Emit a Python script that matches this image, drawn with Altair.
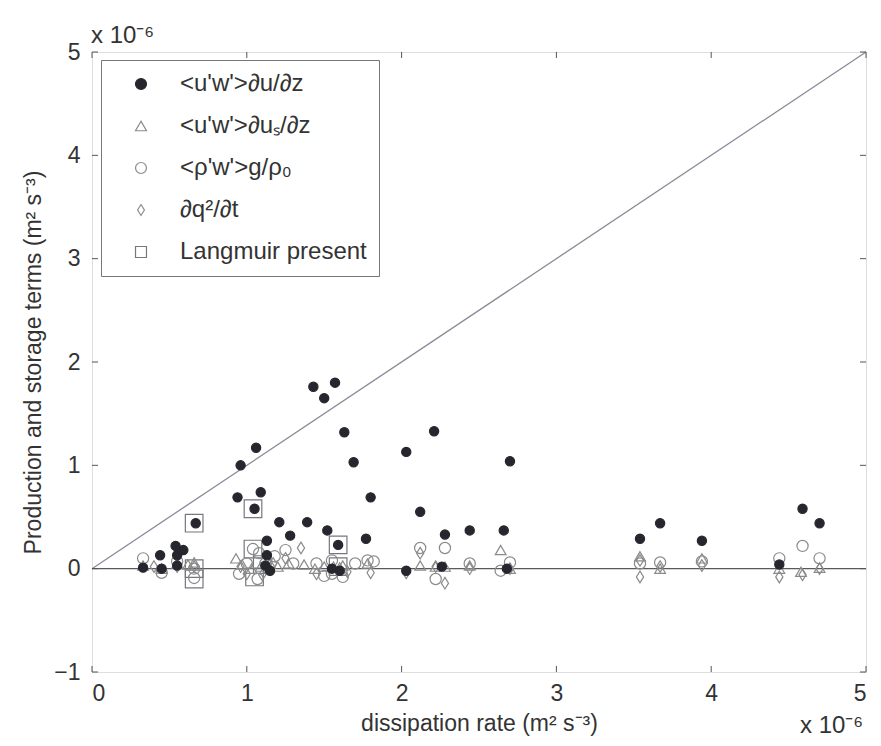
import altair as alt
import pandas as pd

# ---- data (units of 1e-6 m^2 s^-3) ----
dot_x = [0.33, 0.44, 0.45, 0.54, 0.55, 0.59, 0.55, 0.67, 0.94, 0.96, 1.05, 1.06, 1.09, 1.13, 1.13, 1.12, 1.15,
         1.21, 1.28, 1.39, 1.43, 1.50, 1.52, 1.57, 1.59, 1.55, 1.60, 1.63, 1.69, 1.77, 1.80, 2.03, 2.03, 2.12,
         2.21, 2.28, 2.26, 2.44, 2.66, 2.70, 2.68, 3.54, 3.67, 3.94, 4.44, 4.59, 4.70]
dot_y = [0.01, 0.13, 0.00, 0.22, 0.13, 0.18, 0.03, 0.44, 0.69, 1.00, 0.58, 1.17, 0.74, 0.27, 0.13, 0.03, -0.02,
         0.45, 0.32, 0.45, 1.76, 1.65, 0.37, 1.80, 0.23, 0.00, -0.02, 1.32, 1.03, 0.29, 0.69, 1.13, -0.02, 0.55,
         1.33, 0.33, 0.02, 0.37, 0.37, 1.04, 0.00, 0.29, 0.44, 0.27, 0.04, 0.58, 0.44]

tri_x = [0.33, 0.45, 0.55, 0.62, 0.66, 0.93, 0.97, 1.03, 1.09, 1.15, 1.20, 1.27, 1.37, 1.44, 1.50, 1.56, 1.62,
         1.78, 2.12, 2.22, 2.28, 2.44, 2.64, 2.70, 3.54, 3.67, 3.94, 4.44, 4.58, 4.70]
tri_y = [0.03, 0.00, 0.05, 0.04, 0.06, 0.10, 0.04, 0.00, 0.02, 0.05, 0.02, 0.05, 0.04, 0.00, 0.02, 0.02, 0.03,
         0.05, 0.03, 0.02, 0.02, 0.03, 0.18, 0.00, 0.12, 0.00, 0.10, 0.00, -0.03, 0.01]

circ_x = [0.33, 0.45, 0.55, 0.66, 0.66, 0.95, 1.00, 1.04, 1.08, 1.12, 1.07, 1.18, 1.25, 1.30, 1.45, 1.50, 1.55,
          1.62, 1.55, 1.70, 1.78, 1.82, 2.12, 2.22, 2.28, 2.44, 2.64, 2.70, 3.54, 3.67, 3.94, 4.44, 4.59, 4.70]
circ_y = [0.10, -0.04, 0.07, -0.09, 0.00, -0.05, 0.05, 0.19, 0.15, 0.05, -0.10, 0.12, 0.18, 0.05, 0.05, -0.07,
          -0.05, -0.08, 0.08, 0.05, 0.08, 0.07, 0.20, -0.10, 0.20, 0.05, -0.02, 0.06, 0.05, 0.06, 0.07, 0.10,
          0.22, 0.10]

diam_x = [0.40, 0.55, 0.66, 0.96, 1.00, 1.10, 1.17, 1.25, 1.35, 1.45, 1.60, 1.65, 1.80, 2.03, 2.12, 2.22, 2.28,
          2.44, 2.70, 3.54, 3.54, 3.67, 3.94, 4.44, 4.59, 4.70]
diam_y = [0.02, 0.02, 0.02, 0.02, -0.05, -0.06, 0.05, 0.10, 0.20, -0.05, 0.00, -0.03, -0.04, -0.04, 0.15, 0.02,
          -0.14, 0.00, 0.00, -0.08, 0.08, 0.02, 0.03, -0.08, -0.06, 0.00]

box_x = [0.66, 0.66, 0.66, 1.04, 1.04, 1.10, 1.05, 1.59, 1.59]
box_y = [0.44, 0.00, -0.10, 0.58, 0.19, 0.04, -0.08, 0.23, 0.02]

series_names = ["<u'w'>∂u/∂z", "<u'w'>∂uₛ/∂z", "<ρ'w'>g/ρ₀", "∂q²/∂t", "Langmuir present"]
marker_sizes = [85, 115, 125, 135, 310]
x_ticks = [0, 1, 2, 3, 4, 5]
y_ticks = [-1, 0, 1, 2, 3, 4, 5]
diag_x = [0, 5]
diag_y = [0, 5]

# ---- tables ----
rows = []
for xs, ys, k in [(box_x, box_y, 4), (circ_x, circ_y, 2), (diam_x, diam_y, 3),
                  (tri_x, tri_y, 1), (dot_x, dot_y, 0)]:
    for a, b in zip(xs, ys):
        rows.append({"x": a, "y": b, "series": series_names[k], "sz": marker_sizes[k]})
pts = pd.DataFrame(rows)
pts["ord"] = range(len(pts))

diag = pd.DataFrame({"x": diag_x, "y": diag_y})
xt = pd.DataFrame({"v": x_ticks})
yt = pd.DataFrame({"v": y_ticks})

FONT = "Liberation Sans"
TXT = "#333333"
W, H = 774, 620

xscale = alt.Scale(domain=[0, 5], nice=False, zero=False)
yscale = alt.Scale(domain=[-1, 5], nice=False, zero=False)

diamond = "M0,-1L0.62,0L0,1L-0.62,0Z"
leg = alt.Legend(title=None, orient="none", legendX=9, legendY=8, padding=12,
                 strokeColor="#777777", fillColor="white", labelFont=FONT, labelFontSize=24,
                 labelColor=TXT, rowPadding=18, labelOffset=27, symbolOffset=16,
                 symbolStrokeWidth=1.2, symbolSize=120,
                 labelLimit=400, cornerRadius=0)

points = alt.Chart(pts).mark_point(opacity=1, strokeWidth=1.2).encode(
    x=alt.X("x:Q", scale=xscale, title="dissipation rate (m² s⁻³)",
            axis=alt.Axis(values=x_ticks, format="d", domain=False, ticks=False, grid=False,
                          labelFont=FONT, labelFontSize=23, labelColor=TXT, labelPadding=10,
                          titleFont=FONT, titleFontSize=23, titleFontWeight="normal",
                          titleColor=TXT, titlePadding=7)),
    y=alt.Y("y:Q", scale=yscale, title="Production and storage terms (m² s⁻³)",
            axis=alt.Axis(values=y_ticks, format="d", domain=False, ticks=False, grid=False,
                          labelFont=FONT, labelFontSize=23, labelColor=TXT, labelPadding=12,
                          titleFont=FONT, titleFontSize=23, titleFontWeight="normal",
                          titleColor=TXT, titleX=-59, titleY=H / 2, titleAngle=270,
                          titleAlign="center", titleBaseline="middle")),
    shape=alt.Shape("series:N", scale=alt.Scale(domain=series_names,
                    range=["circle", "triangle-up", "circle", diamond, "square"]), legend=leg),
    fill=alt.Fill("series:N", scale=alt.Scale(domain=series_names,
                  range=["#26262e", "transparent", "transparent", "transparent", "transparent"]), legend=leg),
    stroke=alt.Stroke("series:N", scale=alt.Scale(domain=series_names,
                      range=["#26262e", "#8a8a8a", "#8a8a8a", "#8a8a8a", "#77777f"]), legend=leg),
    size=alt.Size("sz:Q", scale=None, legend=None),
    order=alt.Order("ord:Q"),
)

diag_line = alt.Chart(diag).mark_line(color="#8a8a99", strokeWidth=1.3).encode(
    x=alt.X("x:Q", scale=xscale), y=alt.Y("y:Q", scale=yscale))

zero_line = alt.Chart(pd.DataFrame({"v": [0]})).mark_rule(color="#5a5a5a", strokeWidth=1.3).encode(
    y=alt.Y("v:Q", scale=yscale))

tk = 6
tb = alt.Chart(xt).mark_rule(color="#555555").encode(x=alt.X("v:Q", scale=xscale), y=alt.value(H), y2=alt.value(H - tk))
tt = alt.Chart(xt).mark_rule(color="#555555").encode(x=alt.X("v:Q", scale=xscale), y=alt.value(0), y2=alt.value(tk))
tl = alt.Chart(yt).mark_rule(color="#555555").encode(y=alt.Y("v:Q", scale=yscale), x=alt.value(0), x2=alt.value(tk))
tr = alt.Chart(yt).mark_rule(color="#555555").encode(y=alt.Y("v:Q", scale=yscale), x=alt.value(W), x2=alt.value(W - tk))

exp_top = alt.Chart(pd.DataFrame({"t": ["x 10⁻⁶"]})).mark_text(
    font=FONT, fontSize=24, color=TXT, align="left", baseline="alphabetic").encode(
    text="t:N", x=alt.value(-1), y=alt.value(-9))
exp_bot = alt.Chart(pd.DataFrame({"t": ["x 10⁻⁶"]})).mark_text(
    font=FONT, fontSize=24, color=TXT, align="left", baseline="alphabetic").encode(
    text="t:N", x=alt.value(708), y=alt.value(681))

chart = alt.layer(diag_line, zero_line, tb, tt, tl, tr, points, exp_top, exp_bot).properties(
    width=W, height=H,
    autosize=alt.AutoSizeParams(type="none"),
    padding={"left": 84, "top": 44, "right": 7, "bottom": 68},
).configure_view(stroke="#555555", strokeWidth=1.2).configure(background="white")

chart.save("out.html", embed_options={"renderer": "svg", "actions": False})
